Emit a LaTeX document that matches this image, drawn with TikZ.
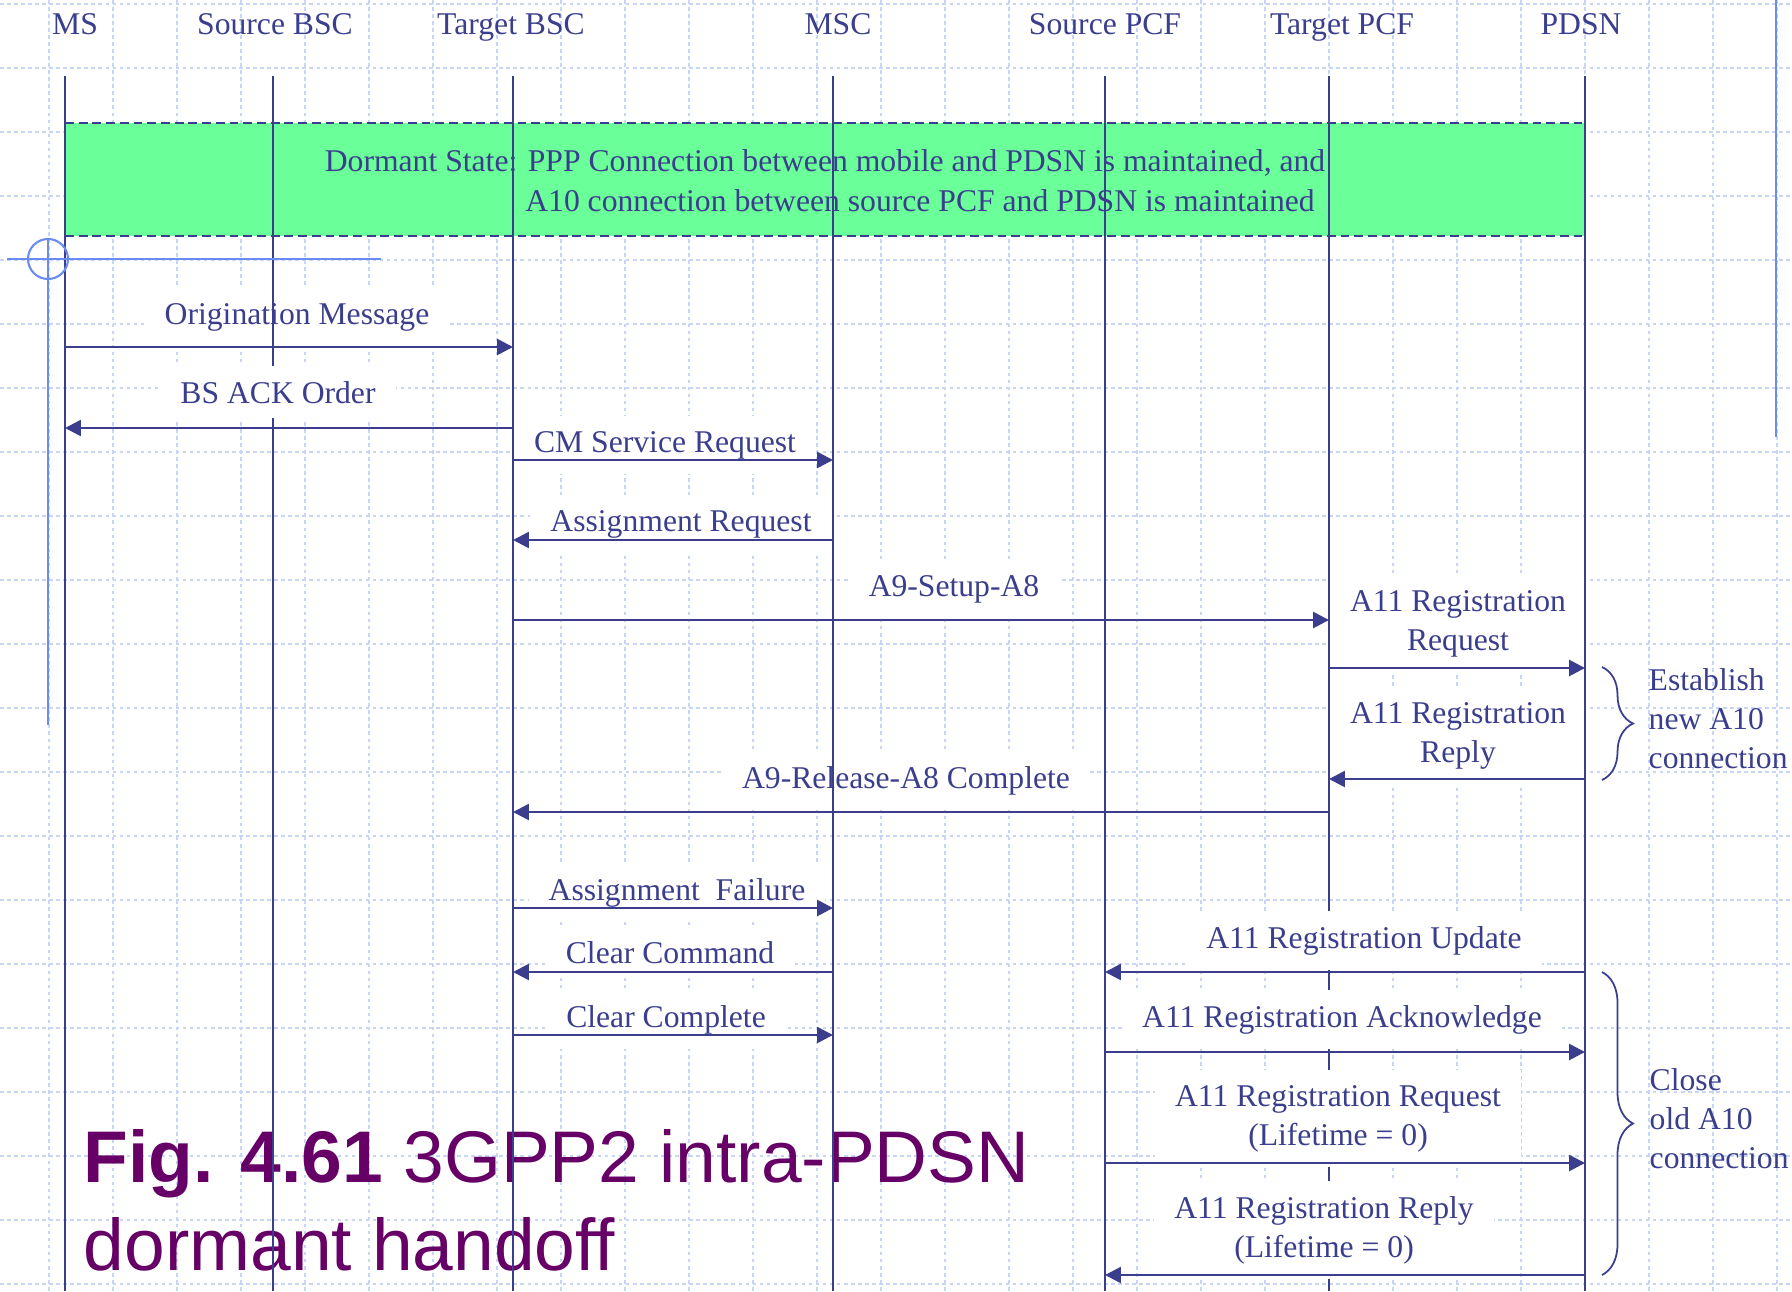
\documentclass[tikz,border=0pt]{standalone}
\usepackage{fontspec}
\setmainfont{Liberation Serif}
\newfontfamily\capfont{Liberation Sans}
\usepackage{tikz}
\usetikzlibrary{arrows.meta, decorations.pathreplacing}
\definecolor{seqBlue}{HTML}{3A3E8C}
\definecolor{gridBlue}{HTML}{C8D6F6}
\definecolor{markBlue}{HTML}{6A8CF0}
\definecolor{dormantGreen}{HTML}{6AFF99}
\definecolor{capPurple}{HTML}{660066}

\begin{document}
\begin{tikzpicture}[
  x=0.01cm, y=-0.01cm,
  gridline/.style={draw=gridBlue, line width=0.5pt, dash pattern=on 1pt off 1pt},
  entity/.style={text=seqBlue, font=\fontsize{9}{11}\selectfont, anchor=base, inner sep=0pt},
  lifeline/.style={draw=seqBlue, line width=0.6pt},
  msg/.style={draw=seqBlue, line width=0.75pt, -{Triangle[length=4.5pt, width=4.5pt]}},
  msglabel/.style={text=seqBlue, fill=white, font=\fontsize{9}{11}\selectfont, anchor=base,
    align=center, inner xsep=0.2cm, inner ysep=0.15cm},
  note/.style={text=seqBlue, font=\fontsize{9}{11}\selectfont, anchor=base west, align=left, inner sep=0pt},
  bracket/.style={draw=seqBlue, line width=0.5pt, decorate, decoration={brace, amplitude=0.31cm}},
  marker/.style={draw=markBlue, line width=0.6pt},
  dormantedge/.style={draw=seqBlue, line width=0.6pt, dash pattern=on 2.5pt off 1.4pt},
  caption/.style={text=capPurple, font=\capfont\fontsize{20.8}{25}\selectfont, anchor=base west,
    align=left, inner sep=0pt}
]

\useasboundingbox (0,0) rectangle (1792,1291);
\fill[white] (0,0) rectangle (1792,1291);

\foreach \gx in {49,113,...,1777}
  \draw[gridline] (\gx,0) -- (\gx,1291);
\foreach \gy in {4,68,...,1284}
  \draw[gridline] (0,\gy) -- (1792,\gy);

\node[entity] (msH) at (75,35) {MS};
\node[entity] (sbscH) at (275,35) {Source BSC};
\node[entity] (tbscH) at (511,35) {Target BSC};
\node[entity] (mscH) at (838,35) {MSC};
\node[entity] (spcfH) at (1105,35) {Source PCF};
\node[entity] (tpcfH) at (1342,35) {Target PCF};
\node[entity] (pdsnH) at (1581,35) {PDSN};

\coordinate (ms) at (65,76);
\coordinate (sbsc) at (273,76);
\coordinate (tbsc) at (513,76);
\coordinate (msc) at (833,76);
\coordinate (spcf) at (1105,76);
\coordinate (tpcf) at (1329,76);
\coordinate (pdsn) at (1585,76);

\fill[dormantGreen] (ms |- 0,123) rectangle (pdsn |- 0,236);
\draw[dormantedge] (ms |- 0,123) -- (pdsn |- 0,123);
\draw[dormantedge] (ms |- 0,236) -- (pdsn |- 0,236);
\node[entity] (dormA) at (825,172)
{Dormant State: PPP Connection between mobile and PDSN is maintained, and};
\node[entity] (dormB) at (920,212)
{A10 connection between source PCF and PDSN is maintained};

\node[caption] (figCap) at (83,1270)
{\textbf{Fig. 4.61} 3GPP2 intra-PDSN\\dormant handoff};

\node[msglabel] (origL) at (297,324) {Origination Message};
\node[msglabel] (cmL) at (665,452) {CM Service Request};
\node[msglabel] (asgL) at (681,531) {Assignment Request};
\node[msglabel] (setupL) at (954,596) {A9-Setup-A8};
\node[msglabel] (regReqL) at (1458,650) {A11 Registration\\Request};
\node[msglabel] (regRepL) at (1458,762) {A11 Registration\\Reply};
\node[msglabel] (relL) at (906,788) {A9-Release-A8 Complete};
\node[msglabel] (failL) at (677,900) {Assignment\ \ Failure};
\node[msglabel] (clrCmdL) at (670,963) {Clear Command};
\node[msglabel] (clrCmpL) at (666,1027) {Clear Complete};

\foreach \nm in {ms, sbsc, tbsc, msc, spcf, tpcf, pdsn}
  \draw[lifeline] (\nm) -- (\nm |- 0,1291);

\node[msglabel] (ackL) at (278,403) {BS ACK Order};
\node[msglabel] (updL) at (1364,948) {A11 Registration Update};
\node[msglabel] (regAckL) at (1342,1027) {A11 Registration Acknowledge};
\node[msglabel] (closeReqL) at (1338,1145) {A11 Registration Request\\(Lifetime = 0)};
\node[msglabel] (closeRepL) at (1324,1257) {A11 Registration Reply\\(Lifetime = 0)};

\draw[msg] (ms |- 0,347) -- (tbsc |- 0,347);
\draw[msg] (tbsc |- 0,428) -- (ms |- 0,428);
\draw[msg] (tbsc |- 0,460) -- (msc |- 0,460);
\draw[msg] (msc |- 0,540) -- (tbsc |- 0,540);
\draw[msg] (tbsc |- 0,620) -- (tpcf |- 0,620);
\draw[msg] (tpcf |- 0,668) -- (pdsn |- 0,668);
\draw[msg] (pdsn |- 0,779) -- (tpcf |- 0,779);
\draw[msg] (tpcf |- 0,812) -- (tbsc |- 0,812);
\draw[msg] (tbsc |- 0,908) -- (msc |- 0,908);
\draw[msg] (msc |- 0,972) -- (tbsc |- 0,972);
\draw[msg] (tbsc |- 0,1035) -- (msc |- 0,1035);
\draw[msg] (pdsn |- 0,972) -- (spcf |- 0,972);
\draw[msg] (spcf |- 0,1052) -- (pdsn |- 0,1052);
\draw[msg] (spcf |- 0,1163) -- (pdsn |- 0,1163);
\draw[msg] (pdsn |- 0,1275) -- (spcf |- 0,1275);

\coordinate (estTop) at (1602,667);
\coordinate (estBot) at (1602,780);
\draw[bracket] (estTop) -- (estBot);
\node[note] (estL) at (1648,768) {Establish\\new A10\\connection};

\coordinate (closeTop) at (1602,972);
\coordinate (closeBot) at (1602,1275);
\draw[bracket] (closeTop) -- (closeBot);
\node[note] (closeL) at (1649,1168) {Close\\old A10\\connection};

\draw[marker] (48,259) circle[radius=20];
\draw[marker] (7,259) -- (381,259);
\draw[marker] (48,238) -- (48,725);
\draw[marker] (1776,0) -- (1776,437);

\end{tikzpicture}
\end{document}
